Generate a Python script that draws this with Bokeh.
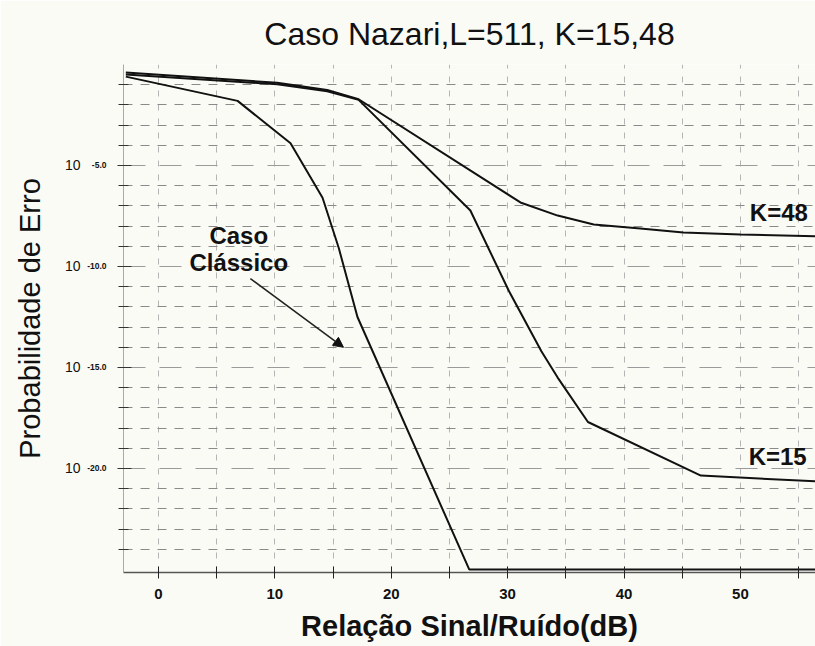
from bokeh.plotting import figure
from bokeh.models import FixedTicker, Arrow, NormalHead, Grid, LinearAxis
from bokeh.core.properties import value
from bokeh.embed import file_html
from bokeh.resources import INLINE

# ---- data (SNR in dB, log10 of error probability) ----
snr_k48 = [-2.8, 10.2, 14.5, 17.2, 31.1, 34.3, 37.4, 41.4, 45.1, 50.0, 56.5]
logpe_k48 = [-0.40, -0.90, -1.26, -1.72, -6.83, -7.48, -7.92, -8.12, -8.32, -8.42, -8.50]
snr_k15 = [-2.8, 10.2, 14.5, 17.2, 26.8, 30.1, 32.9, 34.3, 36.9, 46.6, 56.5]
logpe_k15 = [-0.50, -0.98, -1.32, -1.75, -7.23, -11.2, -14.2, -15.5, -17.7, -20.35, -20.64]
snr_classic = [-2.8, 6.8, 11.35, 14.1, 15.5, 17.1, 26.7, 56.5]
logpe_classic = [-0.60, -1.80, -3.90, -6.60, -9.10, -12.5, -25.0, -25.0]

x_ticks = [0, 10, 20, 30, 40, 50]
x_minor = [5, 15, 25, 35, 45, 55]
y_ticks = [-5, -10, -15, -20]
y_tick_base = ["10", "10", "10", "10"]
y_tick_exp = ["-5.0", "-10.0", "-15.0", "-20.0"]
y_minor = [-1, -2, -3, -4, -6, -7, -8, -9, -11, -12, -13, -14,
           -16, -17, -18, -19, -21, -22, -23, -24]

curve_labels = ["K=48", "K=15"]
curve_label_x = [53.3, 53.2]
curve_label_y = [-7.33, -19.4]
classic_text = ["Caso", "Clássico"]
classic_text_x = [6.9, 6.9]
classic_text_y = [-8.47, -9.8]
arrow_start = (7.9, -10.6)
arrow_end = (15.9, -14.0)

FONT = "Liberation Sans"
BG = "#fbfbf6"
INK = "#111111"

p = figure(width=815, height=646, output_backend="svg", toolbar_location=None,
           x_range=(-3.0, 56.45), y_range=(-25.15, 0.0),
           min_border_left=123, min_border_right=0, min_border_top=64,
           min_border_bottom=74,
           background_fill_color=BG, border_fill_color=BG)
p.outline_line_color = None

p.title.text = "Caso Nazari,L=511, K=15,48"
p.title.text_font = FONT
p.title.text_font_size = "32px"
p.title.text_font_style = "normal"
p.title.text_color = INK
p.title.align = "center"
p.title.standoff = 25

# grids
p.xgrid.ticker = FixedTicker(ticks=list(range(0, 56, 5)))
p.xgrid.grid_line_color = "#b5b5b5"
p.xgrid.grid_line_dash = "6 8"
p.xgrid.grid_line_width = 1
p.ygrid.ticker = FixedTicker(ticks=y_minor)
p.ygrid.grid_line_color = "#8a8a8a"
p.ygrid.grid_line_dash = "9 8"
p.ygrid.grid_line_width = 1
g5 = Grid(dimension=1, ticker=FixedTicker(ticks=y_ticks),
          grid_line_color="#9a9a9a", grid_line_dash="22 14", grid_line_width=1.2)
p.add_layout(g5)

# x axis
xa = p.xaxis[0]
xa.ticker = FixedTicker(ticks=x_ticks, minor_ticks=x_minor)
xa.axis_line_color = "#555555"
xa.axis_line_width = 1.5
xa.major_tick_in = 6
xa.major_tick_out = 6
xa.minor_tick_in = 6
xa.minor_tick_out = 6
xa.major_tick_line_color = "#222222"
xa.minor_tick_line_color = "#222222"
xa.major_label_text_font = FONT
xa.major_label_text_font_size = "15px"
xa.major_label_text_font_style = "bold"
xa.major_label_text_color = INK
xa.major_label_standoff = 10
xa.axis_label = "Relação Sinal/Ruído(dB)"
xa.axis_label_text_font = FONT
xa.axis_label_text_font_size = "29px"
xa.axis_label_text_font_style = "bold"
xa.axis_label_text_color = INK
xa.axis_label_standoff = 8

# y axis (inner: ticks + exponents)
ya = p.yaxis[0]
ya.ticker = FixedTicker(ticks=y_ticks, minor_ticks=y_minor)
ya.major_label_overrides = {t: e for t, e in zip(y_ticks, y_tick_exp)}
ya.axis_line_color = "#aaaaaa"
ya.axis_line_width = 1
ya.major_tick_in = 8
ya.major_tick_out = 6
ya.minor_tick_in = 5
ya.minor_tick_out = 5
ya.major_tick_line_color = "#333333"
ya.minor_tick_line_color = "#333333"
ya.major_label_text_font = FONT
ya.major_label_text_font_size = "8.5px"
ya.major_label_text_font_style = "bold"
ya.major_label_text_color = INK
ya.major_label_text_baseline = "bottom"
ya.major_label_standoff = 11

# y axis (outer: base "10" + title)
yb = LinearAxis(ticker=FixedTicker(ticks=y_ticks, minor_ticks=[]))
yb.major_label_overrides = {t: b for t, b in zip(y_ticks, y_tick_base)}
yb.axis_line_color = None
yb.major_tick_line_color = None
yb.minor_tick_line_color = None
yb.major_tick_in = 0
yb.major_tick_out = 0
yb.minor_tick_in = 0
yb.minor_tick_out = 0
yb.major_label_text_font = FONT
yb.major_label_text_font_size = "14px"
yb.major_label_text_color = INK
yb.major_label_standoff = 4
yb.axis_label = "Probabilidade de Erro"
yb.axis_label_text_font = FONT
yb.axis_label_text_font_size = "29px"
yb.axis_label_text_font_style = "normal"
yb.axis_label_text_color = INK
yb.axis_label_standoff = 16
p.add_layout(yb, "left")

# curves
p.line(snr_k48, logpe_k48, line_color=INK, line_width=2)
p.line(snr_k15, logpe_k15, line_color=INK, line_width=2)
p.line(snr_classic, logpe_classic, line_color=INK, line_width=2)

# texts
p.text(x=curve_label_x, y=curve_label_y, text=curve_labels,
       text_font=value(FONT), text_font_size="24px", text_font_style="bold",
       text_align="center", text_baseline="middle", text_color=INK)
p.text(x=classic_text_x, y=classic_text_y, text=classic_text,
       text_font=value(FONT), text_font_size="24px", text_font_style="bold",
       text_align="center", text_baseline="middle", text_color=INK)

p.add_layout(Arrow(end=NormalHead(size=10, fill_color=INK, line_color=INK),
                   x_start=arrow_start[0], y_start=arrow_start[1],
                   x_end=arrow_end[0], y_end=arrow_end[1],
                   line_color="#222222", line_width=1.5))

open("out.html", "w").write(file_html(p, INLINE))
